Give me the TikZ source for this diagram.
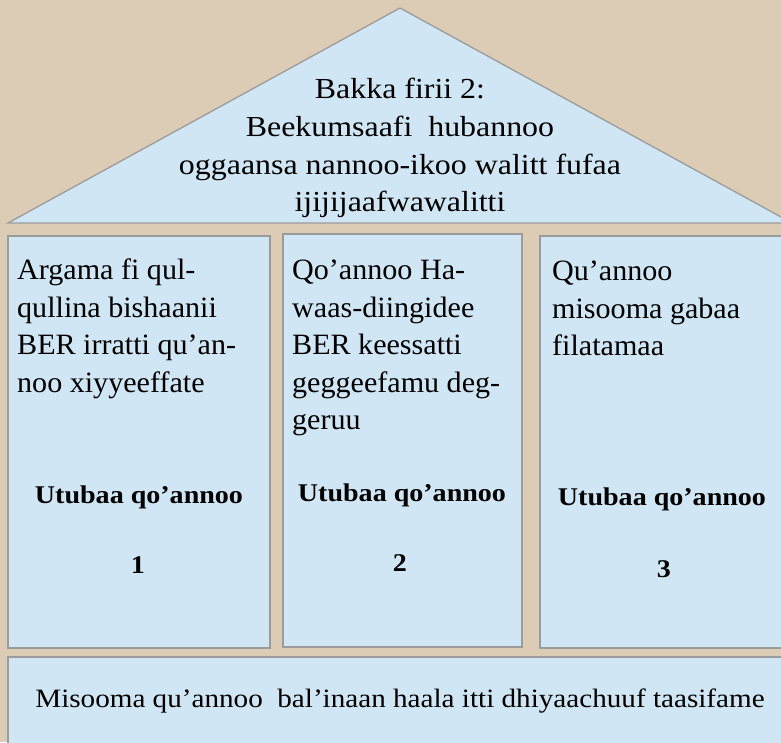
\documentclass[tikz,border=0pt]{standalone}
\usepackage{fontspec}
\setmainfont[FakeStretch=1.02]{Liberation Serif}
\newfontfamily\widefont[FakeStretch=1.1]{Liberation Serif}
\definecolor{tan}{RGB}{220,204,181}
\definecolor{pale}{RGB}{208,230,244}
\definecolor{edge}{RGB}{155,155,155}
\begin{document}
\begin{tikzpicture}[x=1pt,y=-1pt,
  panel/.style={fill=pale,draw=edge,line width=1.3pt},
  body/.style={font=\fontsize{29.5}{37.5}\selectfont,align=left,inner sep=0pt,anchor=north west},
  head/.style={font=\widefont\fontsize{29}{37.7}\selectfont,align=center,inner sep=0pt,anchor=north},
  pillar/.style={font=\widefont\bfseries\fontsize{25.5}{30}\selectfont,inner sep=0pt,anchor=base}]
\useasboundingbox (0,0) rectangle (781,742);
\clip (0,0) rectangle (781,742);
\fill[tan] (0,0) rectangle (781,742);
% roof
\draw[panel] (8,223) -- (400,8) -- (792,223) -- cycle;
\node[head] (roof) at (400,78) {Bakka firii 2:\\Beekumsaafi\ \ hubannoo\\oggaansa nannoo-ikoo walitt fufaa\\ijijijaafwawalitti};
% pillars
\draw[panel] (8,236) rectangle (270,648);
\draw[panel] (283,234) rectangle (522,647);
\draw[panel] (540,236) rectangle (795,648);
\node[body] (t1) at (17,259) {Argama fi qul-\\qullina bishaanii\\BER irratti qu’an-\\noo xiyyeeffate};
\node[body] (t2) at (292,260) {Qo’annoo Ha-\\waas-diingidee\\BER keessatti\\geggeefamu deg-\\geruu};
\node[body] (t3) at (552,261) {Qu’annoo\\misooma gabaa\\filatamaa};
\node[pillar] (u1) at (139,503) {Utubaa qo’annoo};
\node[pillar] (u2) at (402,501) {Utubaa qo’annoo};
\node[pillar] (u3) at (662,505) {Utubaa qo’annoo};
\node[pillar] (n1) at (138,573) {1};
\node[pillar] (n2) at (400,571) {2};
\node[pillar] (n3) at (664,577) {3};
% foundation
\draw[panel] (8,657) rectangle (795,760);
\node[font=\widefont\fontsize{26.5}{32}\selectfont,inner sep=0pt,anchor=base] (base) at (400,707) {Misooma qu’annoo\ \ bal’inaan haala itti dhiyaachuuf taasifame};
\end{tikzpicture}
\end{document}
